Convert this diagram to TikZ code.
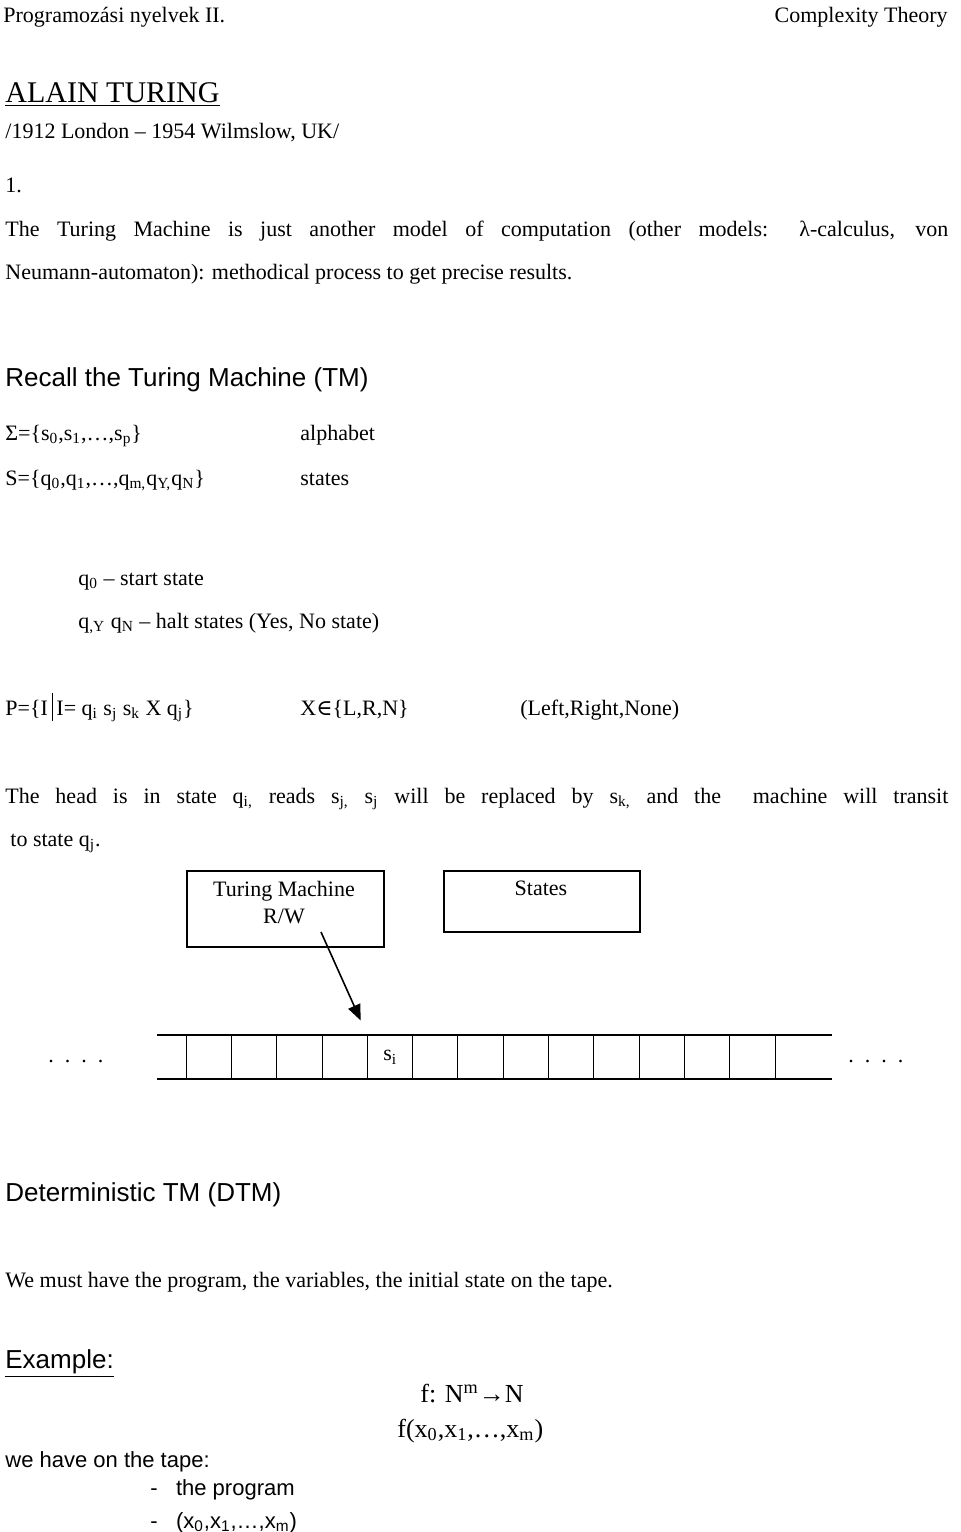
\documentclass[tikz,border=0pt]{standalone}
\usepackage{fontspec}
\setmainfont{Liberation Serif}
\setsansfont{Liberation Sans}
\newfontfamily\symfont{DejaVu Serif}
\usetikzlibrary{arrows}

\begin{document}
\begin{tikzpicture}[
  x=0.5pt,
  y=-0.5pt,
]

  \tikzstyle{txt}=[anchor=base west,inner sep=0pt,font=\fontsize{11}{13}\selectfont]
  \tikzstyle{sanstxt}=[anchor=base west,inner sep=0pt,font=\sffamily\fontsize{13}{15}\selectfont]
  \tikzstyle{boxnode}=[draw,rectangle,thick,anchor=north west,inner sep=0pt,align=center,font=\fontsize{11}{13.5}\selectfont]
  \tikzstyle{cell}=[draw,rectangle,minimum width=22.65pt,minimum height=22pt,inner sep=0pt,font=\fontsize{11}{13}\selectfont]
  \tikzstyle{pointer}=[draw,-triangle 45,thick,shorten >=8pt]

  \useasboundingbox (0,0) rectangle (960,1532);

  % header
  \node[txt] (hl) at (3,22) {Programozási nyelvek II.};
  \node[txt,anchor=base east] (hr) at (948,22) {Complexity Theory};

  % intro
  \node[txt,font=\fontsize{15}{17}\selectfont] (title) at (5,102) {\underline{ALAIN TURING}};
  \node[txt] (born) at (5,138) {/1912 London -- 1954 Wilmslow, UK/};
  \node[txt] (one) at (5,192) {1.};
  \node[txt] (l1) at (5,236) {\makebox[471.5pt][s]{The Turing Machine is just another model of computation (other models: λ-calculus, von}};
  \node[txt] (l2) at (5,279) {Neumann-automaton): methodical process to get precise results.};

  % recall
  \node[sanstxt] (recall) at (5,386) {Recall the Turing Machine (TM)};
  \node[txt] (sigma) at (5,440) {Σ=\{s\textsubscript{0},s\textsubscript{1},\ldots,s\textsubscript{p}\}};
  \node[txt] (alph) at (300,440) {alphabet};
  \node[txt] (sset) at (5,485) {S=\{q\textsubscript{0},q\textsubscript{1},\ldots,q\textsubscript{m,}q\textsubscript{Y,}q\textsubscript{N}\}};
  \node[txt] (states) at (300,485) {states};
  \node[txt] (start) at (78,585) {q\textsubscript{0} -- start state};
  \node[txt] (halt) at (78,628) {q\textsubscript{,Y} q\textsubscript{N} -- halt states (Yes, No state)};
  \node[txt] (pset) at (5,715) {P=\{I\,\rule[-3pt]{0.6pt}{14pt}\,I= q\textsubscript{i} s\textsubscript{j} s\textsubscript{k} X q\textsubscript{j}\}};
  \node[txt] (xset) at (300,715) {X{\symfont ∈}\{L,R,N\}};
  \node[txt] (lrn) at (520,715) {(Left,Right,None)};
  \node[txt] (head1) at (5,803) {\makebox[471.5pt][s]{The head is in state q\textsubscript{i,} reads s\textsubscript{j,} s\textsubscript{j} will be replaced by s\textsubscript{k,} and the \ machine will transit}};
  \node[txt] (head2) at (10,846) {to state q\textsubscript{j}.};

  % machine
  \node[boxnode,minimum width=98.5pt,minimum height=38pt] (tm) at (186,870) {};
  \node[txt,anchor=north,align=center,font=\fontsize{11}{13.5}\selectfont] (tmlab) at (284,881) {Turing Machine\\R/W};
  \node[boxnode,minimum width=98pt,minimum height=30.5pt] (st) at (443,870) {};
  \node[txt,anchor=north] (stlab) at (541,881) {States};

  % tape
  \draw[thick] (157,1035) -- (832,1035);
  \draw[thick] (157,1079) -- (832,1079);
  \foreach \i in {0,...,13} {
    \node[cell,anchor=north west,draw=none] (c\i) at (186+45.3*\i,1035) {};
    \draw (c\i.north west) -- (c\i.south west);
  }
  \node[font=\fontsize{11}{13}\selectfont] (si) at (c4.center) {s\textsubscript{i}};
  \node[txt] (dl) at (48,1062) {.\ \ .\ \ .\ \ .};
  \node[txt] (dr) at (848,1062) {.\ \ .\ \ .\ \ .};
  \coordinate (rw) at (321,932);
  \draw[pointer] (rw) -- (c4.north west);

  % deterministic
  \node[sanstxt] (dtm) at (5,1201) {Deterministic TM (DTM)};
  \node[txt] (must) at (5,1287) {We must have the program, the variables, the initial state on the tape.};
  \node[sanstxt] (ex) at (5,1368) {\underline{Example:}};
  \node[txt,font=\fontsize{13}{15}\selectfont] (f1) at (420,1402) {f: N\textsuperscript{m}→N};
  \node[txt,font=\fontsize{13}{15}\selectfont] (f2) at (397,1437) {f(x\textsubscript{0},x\textsubscript{1},\ldots,x\textsubscript{m})};
  \node[sanstxt,font=\sffamily\fontsize{11}{13}\selectfont] (tape) at (5,1467) {we have on the tape:};
  \node[sanstxt,font=\sffamily\fontsize{11}{13}\selectfont] (prog) at (150,1495) {-\ \ \ the program};
  \node[sanstxt,font=\sffamily\fontsize{11}{13}\selectfont] (vars) at (150,1528) {-\ \ \ (x\textsubscript{0},x\textsubscript{1},\ldots,x\textsubscript{m})};

\end{tikzpicture}
\end{document}
